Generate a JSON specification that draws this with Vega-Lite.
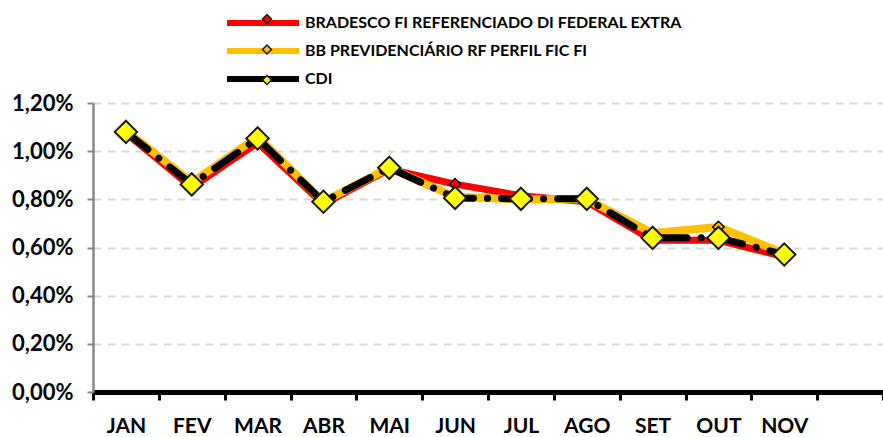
{
  "$schema": "https://vega.github.io/schema/vega-lite/v6.json",
  "width": 790,
  "height": 289,
  "autosize": {"type": "none"},
  "padding": {"left": 93, "top": 103, "right": 0, "bottom": 45},
  "background": "white",
  "config": {
    "locale": {"number": {"decimal": ",", "thousands": ".", "grouping": [3], "currency": ["R$", ""]}},
    "view": {"stroke": null},
    "font": "Lato"
  },
  "data": {
    "values": [
      {"mes": "JAN", "serie": "BRADESCO FI REFERENCIADO DI FEDERAL EXTRA", "valor": 0.01075},
      {"mes": "FEV", "serie": "BRADESCO FI REFERENCIADO DI FEDERAL EXTRA", "valor": 0.0085},
      {"mes": "MAR", "serie": "BRADESCO FI REFERENCIADO DI FEDERAL EXTRA", "valor": 0.01035},
      {"mes": "ABR", "serie": "BRADESCO FI REFERENCIADO DI FEDERAL EXTRA", "valor": 0.0078},
      {"mes": "MAI", "serie": "BRADESCO FI REFERENCIADO DI FEDERAL EXTRA", "valor": 0.00925},
      {"mes": "JUN", "serie": "BRADESCO FI REFERENCIADO DI FEDERAL EXTRA", "valor": 0.00863},
      {"mes": "JUL", "serie": "BRADESCO FI REFERENCIADO DI FEDERAL EXTRA", "valor": 0.00815},
      {"mes": "AGO", "serie": "BRADESCO FI REFERENCIADO DI FEDERAL EXTRA", "valor": 0.0079},
      {"mes": "SET", "serie": "BRADESCO FI REFERENCIADO DI FEDERAL EXTRA", "valor": 0.0063},
      {"mes": "OUT", "serie": "BRADESCO FI REFERENCIADO DI FEDERAL EXTRA", "valor": 0.0063},
      {"mes": "NOV", "serie": "BRADESCO FI REFERENCIADO DI FEDERAL EXTRA", "valor": 0.00562},
      {"mes": "JAN", "serie": "BB PREVIDENCIÁRIO RF PERFIL FIC FI", "valor": 0.01085},
      {"mes": "FEV", "serie": "BB PREVIDENCIÁRIO RF PERFIL FIC FI", "valor": 0.0087},
      {"mes": "MAR", "serie": "BB PREVIDENCIÁRIO RF PERFIL FIC FI", "valor": 0.0106},
      {"mes": "ABR", "serie": "BB PREVIDENCIÁRIO RF PERFIL FIC FI", "valor": 0.0079},
      {"mes": "MAI", "serie": "BB PREVIDENCIÁRIO RF PERFIL FIC FI", "valor": 0.00931},
      {"mes": "JUN", "serie": "BB PREVIDENCIÁRIO RF PERFIL FIC FI", "valor": 0.0081},
      {"mes": "JUL", "serie": "BB PREVIDENCIÁRIO RF PERFIL FIC FI", "valor": 0.008},
      {"mes": "AGO", "serie": "BB PREVIDENCIÁRIO RF PERFIL FIC FI", "valor": 0.008},
      {"mes": "SET", "serie": "BB PREVIDENCIÁRIO RF PERFIL FIC FI", "valor": 0.0066},
      {"mes": "OUT", "serie": "BB PREVIDENCIÁRIO RF PERFIL FIC FI", "valor": 0.00685},
      {"mes": "NOV", "serie": "BB PREVIDENCIÁRIO RF PERFIL FIC FI", "valor": 0.00575},
      {"mes": "JAN", "serie": "CDI", "valor": 0.0108},
      {"mes": "FEV", "serie": "CDI", "valor": 0.00862},
      {"mes": "MAR", "serie": "CDI", "valor": 0.01053},
      {"mes": "ABR", "serie": "CDI", "valor": 0.0079},
      {"mes": "MAI", "serie": "CDI", "valor": 0.00931},
      {"mes": "JUN", "serie": "CDI", "valor": 0.00806},
      {"mes": "JUL", "serie": "CDI", "valor": 0.00802},
      {"mes": "AGO", "serie": "CDI", "valor": 0.00802},
      {"mes": "SET", "serie": "CDI", "valor": 0.0064},
      {"mes": "OUT", "serie": "CDI", "valor": 0.0064},
      {"mes": "NOV", "serie": "CDI", "valor": 0.00571}
    ]
  },
  "encoding": {
    "x": {
      "field": "mes", "type": "nominal", "sort": null,
      "scale": {"domain": ["JAN","FEV","MAR","ABR","MAI","JUN","JUL","AGO","SET","OUT","NOV","DEZ"], "type": "band", "paddingInner": 0, "paddingOuter": 0},
      "axis": {
        "title": null, "labelAngle": 0, "grid": false,
        "labelExpr": "datum.value == 'DEZ' ? '' : datum.value",
        "domainColor": "black", "domainWidth": 5,
        "tickColor": "black", "tickWidth": 3, "tickSize": 8, "tickBand": "extent",
        "labelFont": "Lato", "labelFontSize": 21, "labelFontWeight": "bold", "labelColor": "black", "labelPadding": 15
      }
    },
    "y": {
      "field": "valor", "type": "quantitative",
      "scale": {"domain": [0, 0.012], "nice": false, "zero": true},
      "axis": {
        "title": null, "values": [0, 0.002, 0.004, 0.006, 0.008, 0.01, 0.012], "format": ".2%",
        "domainColor": "#888888", "domainWidth": 2.5,
        "tickColor": "#888888", "tickWidth": 2, "tickSize": 6,
        "gridColor": "#d9d9d9", "gridWidth": 2, "gridDash": [8, 6],
        "labelFont": "Lato", "labelFontSize": 22, "labelFontWeight": "bold", "labelColor": "black", "labelPadding": 14
      }
    }
  },
  "layer": [
    {
      "transform": [{"filter": "datum.serie == 'BRADESCO FI REFERENCIADO DI FEDERAL EXTRA'"}],
      "mark": {"type": "line", "strokeWidth": 7, "strokeCap": "butt", "strokeJoin": "round"},
      "encoding": {
        "color": {
          "field": "serie", "type": "nominal",
          "scale": {"domain": ["BRADESCO FI REFERENCIADO DI FEDERAL EXTRA", "BB PREVIDENCIÁRIO RF PERFIL FIC FI", "CDI"], "range": ["#ff0000", "#ffc000", "#000000"]},
          "legend": {
            "title": null, "orient": "none", "legendX": 158, "legendY": -92, "direction": "vertical",
            "symbolType": "M-4,0L4,0", "symbolSize": 324, "symbolStrokeWidth": 6, "symbolFillColor": "transparent",
            "labelFont": "Lato", "labelFontSize": 16, "labelFontWeight": "bold", "labelColor": "black", "labelOffset": 30,
            "rowPadding": 4, "padding": 0, "labelLimit": 500
          }
        }
      }
    },
    {
      "transform": [{"filter": "datum.serie == 'BB PREVIDENCIÁRIO RF PERFIL FIC FI'"}],
      "mark": {"type": "line", "strokeWidth": 8, "strokeCap": "butt", "strokeJoin": "round"},
      "encoding": {"color": {"field": "serie", "type": "nominal"}}
    },
    {
      "transform": [{"filter": "datum.serie == 'CDI'"}],
      "mark": {"type": "line", "strokeWidth": 7, "strokeCap": "round", "strokeJoin": "round", "strokeDash": [28, 14, 0.1, 14]},
      "encoding": {"color": {"field": "serie", "type": "nominal"}}
    },
    {
      "transform": [{"filter": "datum.serie != 'CDI'"}],
      "mark": {"type": "point", "shape": "diamond", "filled": true, "size": 130, "stroke": "black", "strokeWidth": 1.5, "opacity": 1},
      "encoding": {
        "fill": {
          "field": "serie", "type": "nominal",
          "scale": {"domain": ["CDI", "BB PREVIDENCIÁRIO RF PERFIL FIC FI", "BRADESCO FI REFERENCIADO DI FEDERAL EXTRA"], "range": ["#ffff00", "#ffc000", "#ff0000"]},
          "legend": {
            "title": null, "orient": "none", "legendX": 166, "legendY": -92, "direction": "vertical",
            "values": ["BRADESCO FI REFERENCIADO DI FEDERAL EXTRA", "BB PREVIDENCIÁRIO RF PERFIL FIC FI", "CDI"],
            "symbolType": "diamond", "symbolSize": 80, "symbolStrokeColor": "black", "symbolStrokeWidth": 1.5, "symbolOpacity": 1,
            "labelFont": "Lato", "labelFontSize": 16, "labelExpr": "''", "labelOffset": 6,
            "rowPadding": 14.5, "padding": 0
          }
        }
      }
    },
    {
      "transform": [{"filter": "datum.serie == 'CDI'"}],
      "mark": {"type": "point", "shape": "diamond", "filled": true, "size": 500, "stroke": "#1a1a1a", "strokeWidth": 2, "opacity": 1},
      "encoding": {"fill": {"field": "serie", "type": "nominal"}}
    }
  ]
}
